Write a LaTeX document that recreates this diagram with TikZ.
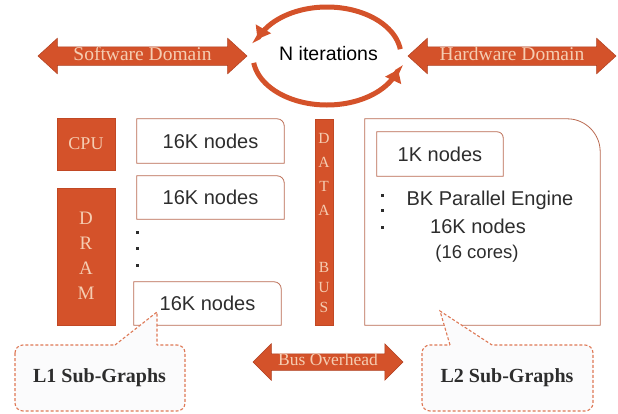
\documentclass[tikz,border=0pt]{standalone}
\usepackage{fontspec}
\setmainfont{Liberation Serif}
\newfontfamily\sansfam{Liberation Sans}
\usetikzlibrary{shapes.arrows,arrows.meta}
\definecolor{accent}{RGB}{212,82,42}
\definecolor{accentdark}{RGB}{175,62,30}
\definecolor{peach}{RGB}{245,205,178}
\definecolor{boxline}{RGB}{185,105,80}
\definecolor{ink}{RGB}{45,45,45}
\definecolor{calloutfill}{RGB}{251,251,252}
\definecolor{calloutline}{RGB}{222,120,85}
\begin{document}
\begin{tikzpicture}[x=1pt,y=-1pt,
  darrow/.style={shape=double arrow, fill=accent, draw=accentdark, line width=0.5pt, text=peach, inner xsep=0pt},
  hwbox/.style={fill=accent, draw=accentdark!50!accent, line width=0.4pt, text=peach, minimum width=58pt, inner sep=0pt},
  vletters/.style={text=peach, align=center, inner sep=0pt},
  sans/.style={font=\sansfam\fontsize{20}{22}\selectfont, text=ink},
  outline/.style={draw=boxline, line width=0.8pt},
  dotmark/.style={fill=ink, minimum size=3pt, inner sep=0pt, shape=rectangle},
  callout/.style={fill=calloutfill, draw=calloutline, line width=1.1pt, dash pattern=on 3pt off 2pt},
  cyc/.style={draw=accent, line width=5pt, -{Triangle[width=17pt,length=12pt]}},
  calltext/.style={font=\bfseries\fontsize{20}{20}\selectfont, text=ink},
]
\useasboundingbox (0,0) rectangle (618,413);

% top row
\node[darrow, minimum height=209pt, minimum width=35pt, double arrow head extend=8.5pt,
      double arrow tip angle=85, font=\fontsize{19.5}{20}\selectfont,
      text height=12pt, text depth=4pt, inner ysep=1pt] (sw) at (142.5,56) {Software Domain};
\node[darrow, minimum height=208pt, minimum width=35pt, double arrow head extend=8.5pt,
      double arrow tip angle=85, font=\fontsize{19.5}{20}\selectfont,
      text height=12pt, text depth=4pt, inner ysep=1pt] (hw) at (512,56) {Hardware Domain};
\node[font=\sansfam\fontsize{19.5}{20}\selectfont, text=black] (iter) at (328.5,53.5) {N iterations};
\draw[cyc] plot[domain=-8:-160, samples=60, smooth] ({327+74*cos(\x)},{56+49*sin(\x)});
\draw[cyc] plot[domain=172:16, samples=60, smooth] ({327+74*cos(\x)},{56+49*sin(\x)});

% hardware blocks
\node[hwbox, minimum height=52pt, font=\fontsize{18}{18}\selectfont] (cpu) at (86,144) {CPU};
\node[hwbox, minimum height=137pt] (dram) at (86,256.5) {};
\node[vletters, font=\fontsize{19}{25}\selectfont] (dramtxt) at (86,256) {D\\R\\A\\M};
\node[hwbox, minimum width=18pt, minimum height=206pt] (bus) at (324,222) {};
\node[vletters, font=\fontsize{15.5}{24}\selectfont] (datatxt) at (324,174.5) {D\\A\\T\\A};
\node[vletters, font=\fontsize{15.5}{20}\selectfont] (bustxt) at (324,287) {B\\U\\S};

% L1 boxes
\node[sans, minimum width=147pt, minimum height=44pt, inner sep=0pt] (n1) at (210.5,141) {16K nodes};
\node[sans, minimum width=147pt, minimum height=43pt, inner sep=0pt] (n2) at (210.5,197.5) {16K nodes};
\node[sans, minimum width=147pt, minimum height=43pt, inner sep=0pt] (n3) at (207.5,303.5) {16K nodes};
\foreach \b in {n1,n2,n3}{
  \draw[outline] (\b.south west) -- (\b.north west) -- ([xshift=-7pt]\b.north east)
     arc[start angle=90, end angle=0, radius=7pt] -- (\b.south east) -- cycle;
}
\node[dotmark] (d1) at (137,232) {};
\node[dotmark] (d2) at (137,248) {};
\node[dotmark] (d3) at (137,265) {};

% L2 box
\node[minimum width=235pt, minimum height=206pt, inner sep=0pt] (l2) at (482.5,222) {};
\draw[outline] (l2.south west) -- (l2.north west) -- ([xshift=-33pt]l2.north east)
     arc[start angle=90, end angle=0, radius=33pt] -- (l2.south east) -- cycle;
\node[sans, minimum width=126pt, minimum height=44pt, inner sep=0pt] (k1) at (440,154) {1K nodes};
\draw[outline] (k1.south west) -- (k1.north west) -- ([xshift=-6pt]k1.north east)
     arc[start angle=90, end angle=0, radius=6pt] -- (k1.south east) -- cycle;
\node[dotmark] (e1) at (382,195) {};
\node[dotmark] (e2) at (382,210) {};
\node[dotmark] (e3) at (382,227) {};
\node[sans, font=\sansfam\fontsize{20}{22}\selectfont] (bk) at (490,200) {BK Parallel Engine};
\node[sans] (k16) at (478,226) {16K nodes};
\node[sans, font=\sansfam\fontsize{18.5}{20}\selectfont] (cores) at (477,254) {(16 cores)};

% bus overhead
\node[darrow, minimum height=150pt, minimum width=36pt, double arrow head extend=10pt,
      double arrow tip angle=90, font=\fontsize{17.5}{18}\selectfont,
      text height=11pt, text depth=3.5pt, inner ysep=0.75pt] (bo) at (328,362) {Bus Overhead};

% callouts
\path[callout, rounded corners=8pt] (15,345) rectangle (185,411);
\fill[calloutfill] (113.5,346.3) -- (157,312) -- (157,346.3) -- cycle;
\draw[callout, fill=none] (115,345) -- (157,312) -- (157,345);
\node[calltext] (l1c) at (99.5,378) {L1 Sub-Graphs};

\path[callout, rounded corners=8pt] (422,345) rectangle (593,411);
\fill[calloutfill] (450.3,346.3) -- (440,311) -- (494,346.3) -- cycle;
\draw[callout, fill=none] (450,345) -- (440,311) -- (492,345);
\node[calltext] (l2c) at (507,378) {L2 Sub-Graphs};
\end{tikzpicture}
\end{document}
